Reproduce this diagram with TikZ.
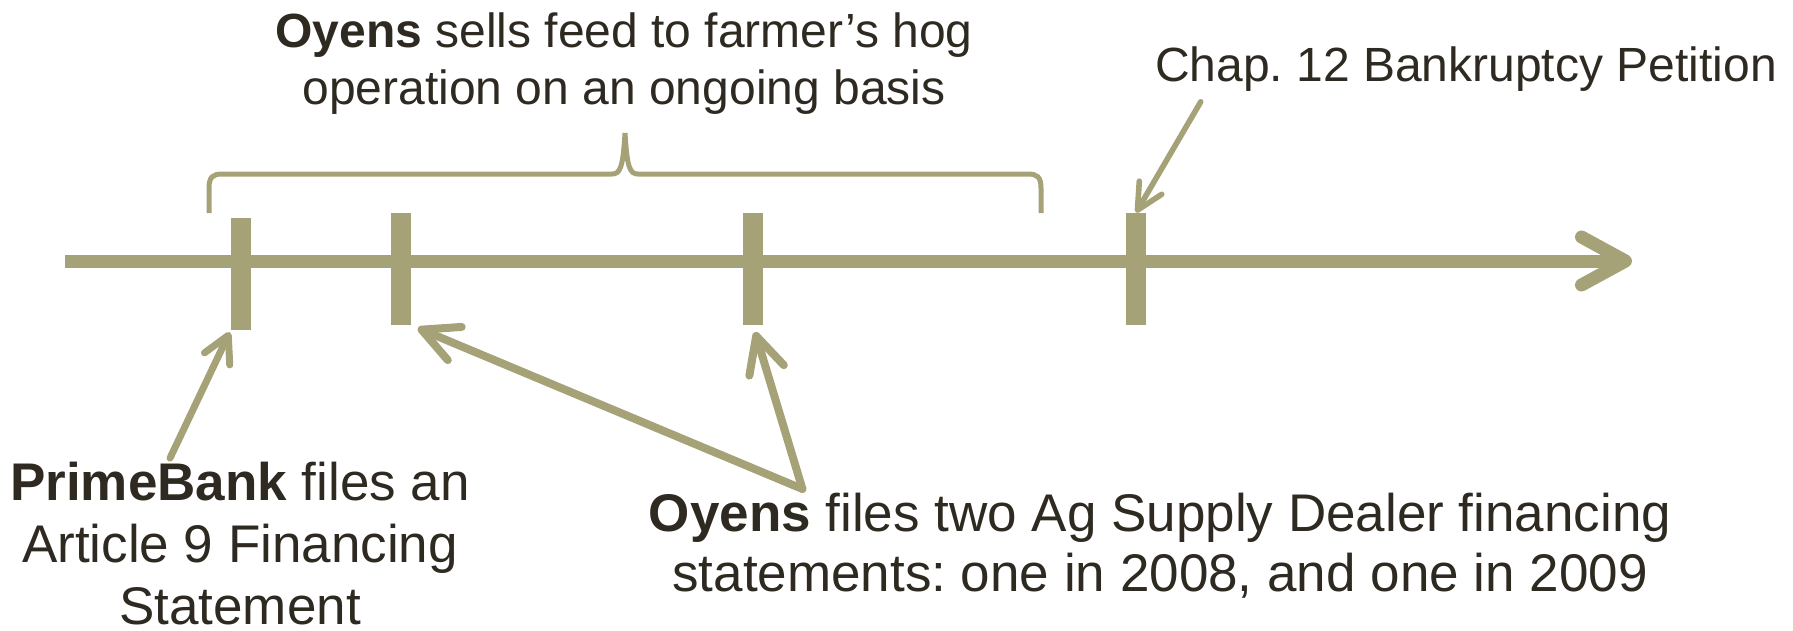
\documentclass[tikz,border=0pt]{standalone}
\usepackage{fontspec}
\setmainfont{Liberation Sans}
\usepackage{tikz}
\usetikzlibrary{positioning,calc,arrows.meta}
\definecolor{khaki}{HTML}{A6A277}
\definecolor{ink}{HTML}{2E2A21}
\tikzstyle{line} = [draw=khaki,line width=6.5pt]
\tikzstyle{tick} = [fill=khaki,minimum width=10pt,minimum height=56pt,inner sep=0pt]
\tikzstyle{note} = [text=ink,align=center,inner sep=0pt]
\tikzstyle{arr} = [draw=khaki,line cap=round]
\frenchspacing

\begin{document}
\begin{tikzpicture}[x=0.5pt,y=-0.5pt]
    \useasboundingbox (0,0) rectangle (1793,631);
    % time axis
    \coordinate (start) at (65,261);
    \coordinate (stop) at (1632,261);
    \path [line,-{Straight Barb[length=22pt,width=24pt,round]}] (start) -- (stop);
    \node[tick] (t1) at (241,274) {};
    \node[tick] (t2) at (401,269) {};
    \node[tick] (t3) at (753,269) {};
    \node[tick] (t4) at (1136,269) {};
    % brace over the feed period
    \draw[khaki,line width=2.5pt] (209,213) -- (209,188) .. controls (209,177) and (213,174) .. (222,174)
        -- (612,174) .. controls (620,174) and (623,168) .. (625,133)
        .. controls (627,168) and (630,174) .. (638,174) -- (1028,174)
        .. controls (1037,174) and (1041,177) .. (1041,188) -- (1041,213);
    % texts
    \node[note,font=\fontsize{24pt}{28.5pt}\selectfont] (feed) at (624,64)
        {\textbf{Oyens} sells feed to farmer’s hog\\operation on an ongoing basis};
    \node[note,font=\fontsize{24pt}{28.5pt}\selectfont] (chap) at (1466,69) {Chap. 12 Bankruptcy Petition};
    \node[note,font=\fontsize{26.5pt}{31pt}\selectfont] (prime) at (240,544)
        {\textbf{PrimeBank} files an\\Article 9 Financing\\Statement};
    \node[note,font=\fontsize{26.5pt}{30pt}\selectfont] (dealer) at (1160,546)
        {\textbf{Oyens} files two Ag Supply Dealer financing\\statements: one in 2008, and one in 2009};
    % pointers
    \coordinate (fork) at ([xshift=77pt,yshift=2pt]dealer.north west);
    \draw[arr,line width=3.5pt,-{Straight Barb[length=13pt,width=14pt,round]},shorten >=1pt] ([xshift=-35pt,yshift=2pt]prime.north) -- (t1.south west);
    \draw[arr,line width=4pt,-{Straight Barb[length=18pt,width=18pt,round]},shorten >=3.5pt] (fork) -- (t2.south east);
    \draw[arr,line width=4pt,-{Straight Barb[length=18pt,width=18pt,round]},shorten >=3.5pt] (fork) -- (t3.south);
    \draw[arr,line width=2.8pt,-{Straight Barb[length=13pt,width=13pt,round]}] ([xshift=23pt,yshift=-5pt]chap.south west) -- (t4.north);
\end{tikzpicture}
\end{document}
